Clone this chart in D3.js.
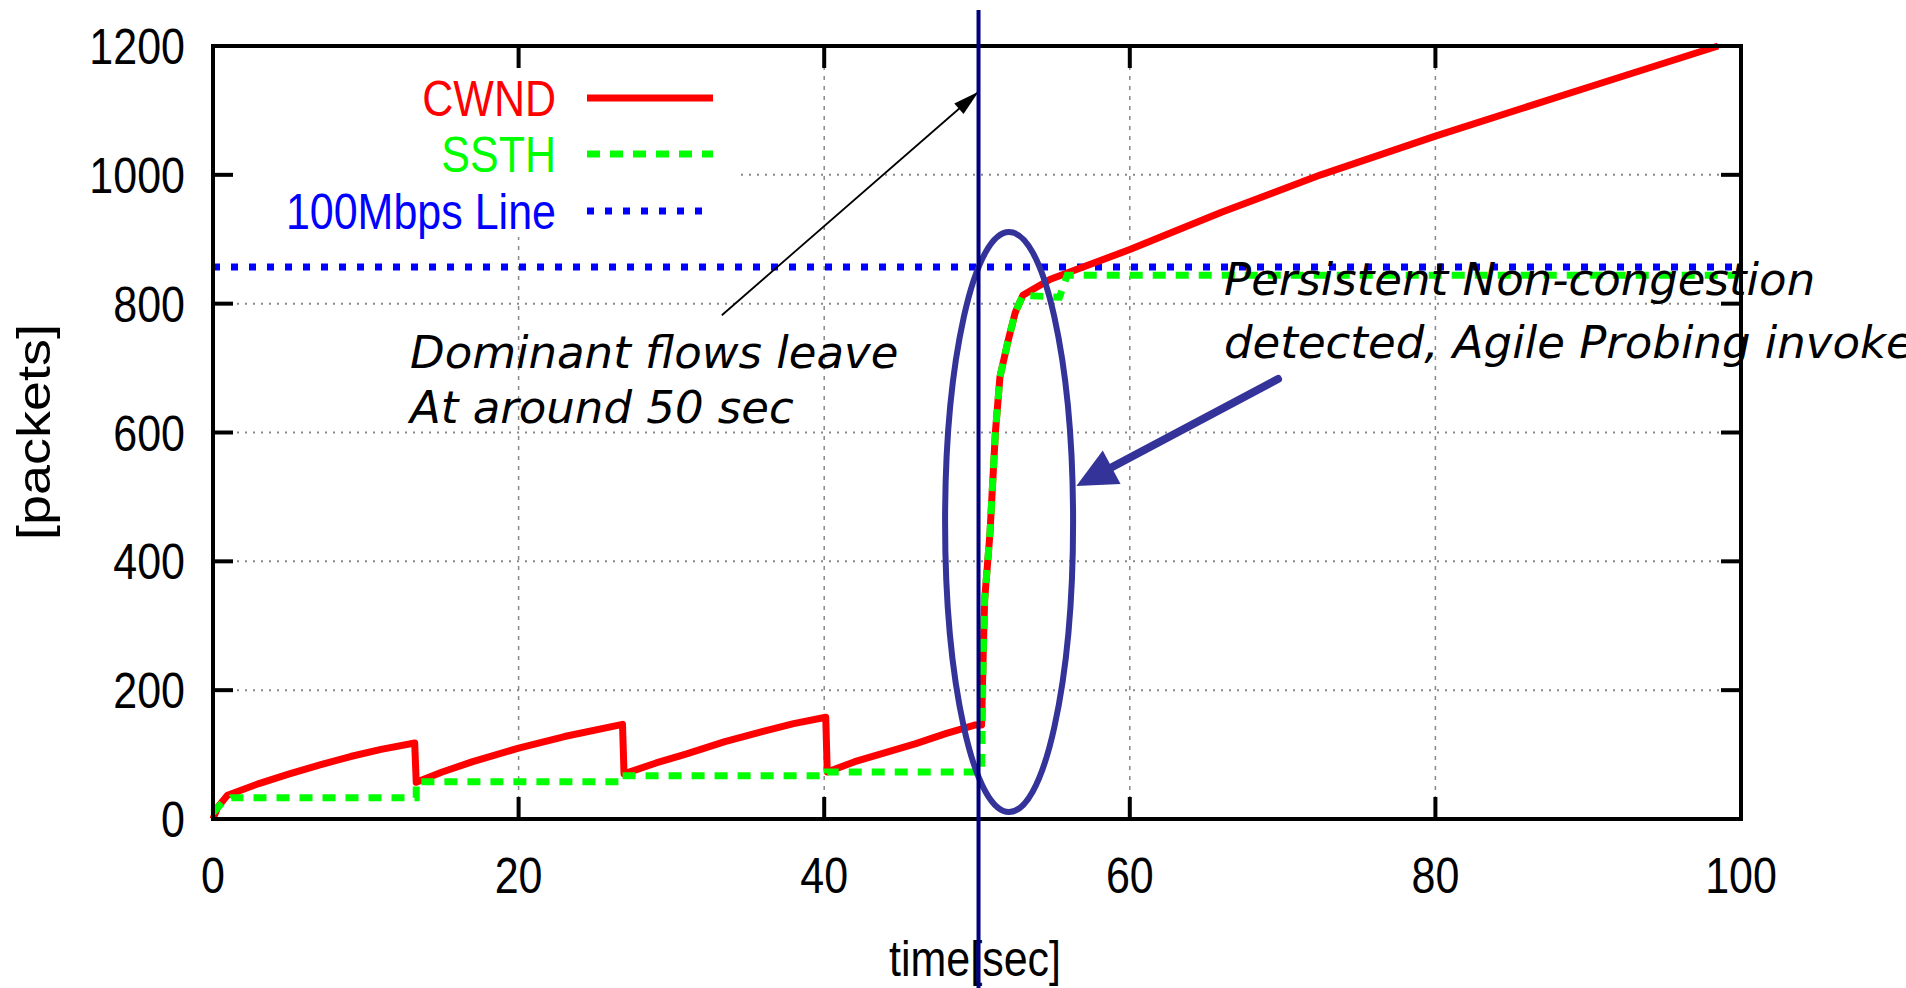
<!DOCTYPE html>
<html>
<head>
<meta charset="utf-8">
<script src="https://cdn.jsdelivr.net/npm/d3@7"></script>
<style>
  html, body { margin: 0; padding: 0; background: #fff; overflow: hidden; }
</style>
</head>
<body>
<div id="chart"></div>
<script>
// ---- data ----
var xTicks = [0, 20, 40, 60, 80, 100];
var yTicks = [0, 200, 400, 600, 800, 1000, 1200];

var cwndTime = [0, 0.3, 0.95, 3, 5, 7, 9, 11, 13.2, 13.3, 15, 17, 20, 23, 26.8, 26.9, 29, 31, 33.5, 36, 38, 40.1,
                40.2, 42, 44, 46, 48, 49.9, 50.3, 50.4, 50.5, 50.85, 51.2, 51.5, 52.0, 52.5, 53.0,
                54.8, 60, 66, 72.5, 80, 90, 98.5];
var cwndVal  = [0, 18, 37, 55, 70, 84, 97, 108, 118, 57, 73, 89, 110, 128, 147, 70, 87, 101, 120, 136, 148, 158,
                73, 89, 103, 117, 133, 146, 146, 250, 340, 444, 599, 686, 739, 786, 813,
                838, 884, 942, 1000, 1060, 1136, 1200];

var ssthTime = [0, 0.6, 1.2, 13.3, 13.3, 26.8, 26.8, 40.2, 40.2, 50.3, 50.4, 50.5, 50.85, 51.2, 51.5, 52.0, 52.5, 53.0, 55.4, 55.9, 100];
var ssthVal  = [10, 25, 33, 33, 58, 58, 67, 67, 73, 73, 250, 340, 444, 599, 686, 739, 786, 813, 810, 844, 844];

var lineTime = [0, 100];
var lineVal  = [857, 857];

var legendNames = ["CWND", "SSTH", "100Mbps Line"];
var leaveTime = 50.1;

// ---- layout ----
var W = 1906, H = 988;
var plot = {left: 213, right: 1741, top: 46, bottom: 819};

var svg = d3.select("#chart").append("svg")
    .attr("width", W).attr("height", H)
    .style("font-family", "'Liberation Sans', Arial, sans-serif");

var x = d3.scaleLinear().domain([0, 100]).range([plot.left, plot.right]);
var y = d3.scaleLinear().domain([0, 1200]).range([plot.bottom, plot.top]);

// grid
svg.append("g").selectAll("line").data(yTicks.slice(1, -1)).join("line")
    .attr("x1", plot.left).attr("x2", plot.right)
    .attr("y1", d => y(d)).attr("y2", d => y(d))
    .attr("stroke", "#888").attr("stroke-width", 2).attr("stroke-dasharray", "2,6");
svg.append("g").selectAll("line").data(xTicks.slice(1, -1)).join("line")
    .attr("x1", d => x(d)).attr("x2", d => x(d))
    .attr("y1", plot.top).attr("y2", plot.bottom)
    .attr("stroke", "#888").attr("stroke-width", 1.5).attr("stroke-dasharray", "4,6");

// legend background hides grid
svg.append("rect").attr("x", plot.left + 2).attr("y", plot.top + 2)
    .attr("width", 522).attr("height", 189).attr("fill", "#fff");

// series
function pts(t, v) { return t.map((d, i) => [d, v[i]]); }
var line = d3.line().x(d => x(d[0])).y(d => y(d[1]));

svg.append("path").datum(pts(lineTime, lineVal))
    .attr("d", line).attr("fill", "none")
    .attr("stroke", "#0000ff").attr("stroke-width", 7).attr("stroke-dasharray", "7,11");
svg.append("path").datum(pts(cwndTime, cwndVal))
    .attr("d", line).attr("fill", "none")
    .attr("stroke", "#ff0000").attr("stroke-width", 7).attr("stroke-linejoin", "round");
svg.append("path").datum(pts(ssthTime, ssthVal))
    .attr("d", line).attr("fill", "none")
    .attr("stroke", "#00ff00").attr("stroke-width", 7).attr("stroke-dasharray", "13,10");

// frame + inward ticks
svg.append("rect").attr("x", plot.left).attr("y", plot.top)
    .attr("width", plot.right - plot.left).attr("height", plot.bottom - plot.top)
    .attr("fill", "none").attr("stroke", "#000").attr("stroke-width", 4);
var tk = svg.append("g").attr("stroke", "#000").attr("stroke-width", 4);
xTicks.slice(1, -1).forEach(function(d) {
    tk.append("line").attr("x1", x(d)).attr("x2", x(d)).attr("y1", plot.bottom).attr("y2", plot.bottom - 22);
    tk.append("line").attr("x1", x(d)).attr("x2", x(d)).attr("y1", plot.top).attr("y2", plot.top + 22);
});
yTicks.slice(1, -1).forEach(function(d) {
    tk.append("line").attr("x1", plot.left).attr("x2", plot.left + 20).attr("y1", y(d)).attr("y2", y(d));
    tk.append("line").attr("x1", plot.right).attr("x2", plot.right - 20).attr("y1", y(d)).attr("y2", y(d));
});

// tick labels (narrow look of the original)
svg.append("g").selectAll("text").data(yTicks).join("text")
    .attr("transform", d => "translate(185," + y(d) + ") scale(0.86,1)")
    .attr("text-anchor", "end").attr("dy", "0.36em")
    .attr("font-size", 50).text(d => d);
svg.append("g").selectAll("text").data(xTicks).join("text")
    .attr("transform", d => "translate(" + x(d) + ",875) scale(0.86,1)")
    .attr("text-anchor", "middle").attr("dy", "0.36em")
    .attr("font-size", 50).text(d => d);

// axis titles
svg.append("text").attr("transform", "translate(975,958) scale(0.86,1)")
    .attr("text-anchor", "middle").attr("dy", "0.36em").attr("font-size", 50).text("time[sec]");
svg.append("text").attr("transform", "translate(33,432) rotate(-90) scale(1,0.86)")
    .attr("text-anchor", "middle").attr("dy", "0.36em").attr("font-size", 54).text("[packets]");

// legend
var legColors = ["#ff0000", "#00ff00", "#0000ff"];
var legDash = [null, "13,10", "7,11"];
var legY = [98, 154, 211];
legendNames.forEach(function(n, i) {
    svg.append("text").attr("transform", "translate(556," + legY[i] + ") scale(0.86,1)")
        .attr("text-anchor", "end").attr("dy", "0.36em").attr("font-size", 50)
        .attr("fill", legColors[i]).text(n);
    svg.append("line").attr("x1", 587).attr("x2", i === 2 ? 706 : 713)
        .attr("y1", legY[i]).attr("y2", legY[i])
        .attr("stroke", legColors[i]).attr("stroke-width", 7)
        .attr("stroke-dasharray", legDash[i]);
});

// ---- annotations ----
function arrowHead(x0, y0, x1, y1, len, half, color) {
    var a = Math.atan2(y1 - y0, x1 - x0);
    var bx = x1 - len * Math.cos(a), by = y1 - len * Math.sin(a);
    var px = -Math.sin(a) * half, py = Math.cos(a) * half;
    svg.append("polygon")
        .attr("points", [[x1, y1], [bx + px, by + py], [bx - px, by - py]].map(p => p.join(",")).join(" "))
        .attr("fill", color);
}

// thin black arrow to the 50 sec line
var a0 = [x(33.3), y(782)], a1 = [x(leaveTime), y(1129)];
svg.append("line").attr("x1", a0[0]).attr("y1", a0[1]).attr("x2", a1[0]).attr("y2", a1[1])
    .attr("stroke", "#000").attr("stroke-width", 1.8);
arrowHead(a0[0], a0[1], a1[0], a1[1], 26, 7, "#000");

var ann = svg.append("g").attr("font-family", "'DejaVu Sans', Verdana, sans-serif")
    .attr("font-style", "italic").attr("font-size", 45).attr("fill", "#000");
ann.append("text").attr("x", 410).attr("y", 368).text("Dominant flows leave");
ann.append("text").attr("x", 410).attr("y", 423).text("At around 50 sec");
ann.append("text").attr("x", 1224).attr("y", 295).text("Persistent Non-congestion");
ann.append("text").attr("x", 1224).attr("y", 358).text("detected, Agile Probing invoked");

// ellipse round the jump
svg.append("ellipse").attr("cx", x(52.1)).attr("cy", y(461)).attr("rx", 64).attr("ry", 290)
    .attr("fill", "none").attr("stroke", "#333399").attr("stroke-width", 6);

// thick arrow to ellipse
var b0 = [x(69.7), y(683)], b1 = [x(56.5), y(517)];
var ang = Math.atan2(b1[1] - b0[1], b1[0] - b0[0]);
svg.append("line").attr("x1", b0[0]).attr("y1", b0[1])
    .attr("x2", b1[0] - 30 * Math.cos(ang)).attr("y2", b1[1] - 30 * Math.sin(ang))
    .attr("stroke", "#333399").attr("stroke-width", 8).attr("stroke-linecap", "round");
arrowHead(b0[0], b0[1], b1[0], b1[1], 40, 19, "#333399");

// vertical line at ~50 sec
svg.append("line").attr("x1", x(leaveTime)).attr("x2", x(leaveTime))
    .attr("y1", 10).attr("y2", H)
    .attr("stroke", "#000080").attr("stroke-width", 4);
</script>
</body>
</html>
